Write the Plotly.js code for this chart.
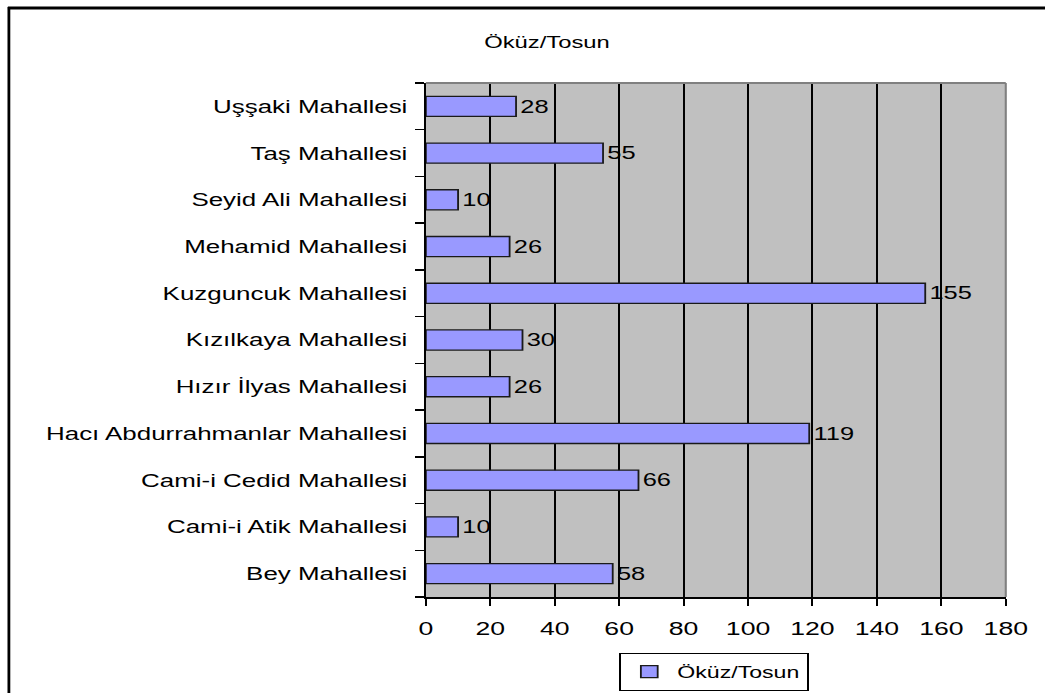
<!DOCTYPE html>
<html>
<head>
<meta charset="utf-8">
<script src="https://cdn.plot.ly/plotly-3.0.1.min.js"></script>
<style>
html,body{margin:0;padding:0;background:#fff;overflow:hidden;}
#wrap{width:1045px;height:693px;overflow:hidden;}
#chart{width:746px;height:693px;transform-origin:0 0;}
</style>
</head>
<body>
<div id="wrap"><div id="chart"></div></div>
<script>
const categories = ["Bey Mahallesi","Cami-i Atik Mahallesi","Cami-i Cedid Mahallesi","Hacı Abdurrahmanlar Mahallesi","Hızır İlyas Mahallesi","Kızılkaya Mahallesi","Kuzguncuk Mahallesi","Mehamid Mahallesi","Seyid Ali Mahallesi","Taş Mahallesi","Uşşaki Mahallesi"];
const values = [58,10,66,119,26,30,155,26,10,55,28];
const seriesName = "Öküz/Tosun";
const chartTitle = "Öküz/Tosun";
const xTicks = [0,20,40,60,80,100,120,140,160,180];

// The reference is a horizontally stretched picture: draw narrower, then stretch.
const W = 1045, H = 693;
const W0 = 746;
const S = W / W0;
document.getElementById("chart").style.transform = "scaleX(" + S + ")";

// plot area in target pixels
const PL = 426, PR = 1006, PT = 83, PB = 597;
const L = PL / S, R = (W - PR) / S, T = PT, B = H - PB;
const pw = W0 - L - R, ph = H - T - B;
function px(X){return (X / S - L) / pw;}
function py(Y){return (H - B - Y) / ph;}

const font = "Liberation Sans, Arial, sans-serif";

const trace = {
  type: "bar",
  orientation: "h",
  y: categories,
  x: values,
  name: seriesName,
  width: 0.43,
  marker: {color: "#9999FF", line: {color: "#1a1a1a", width: 1.3}},
  text: values.map(String),
  textposition: "outside",
  cliponaxis: false,
  textfont: {family: font, size: 19, color: "#000"},
  hoverinfo: "none"
};

const layout = {
  width: W0, height: H,
  margin: {l: L, r: R, t: T, b: B, pad: 0, autoexpand: false},
  paper_bgcolor: "#ffffff",
  plot_bgcolor: "#C0C0C0",
  font: {family: font, color: "#000"},
  title: {text: chartTitle, font: {family: font, size: 17, color: "#000"}, x: 547 / W, xref: "container", xanchor: "center", y: 1 - 42 / H, yref: "container", yanchor: "middle"},
  showlegend: true,
  legend: {
    orientation: "h", xref: "container", x: 714 / W, xanchor: "center",
    yref: "container", y: (H - 691) / H, yanchor: "bottom",
    bordercolor: "#000", borderwidth: 1.3, bgcolor: "#fff",
    font: {family: font, size: 16.5, color: "#000"},
    itemwidth: 30
  },
  xaxis: {
    range: [0, 180], tickvals: xTicks, ticktext: xTicks.map(String),
    showgrid: true, gridcolor: "#000", gridwidth: 1.4,
    showline: true, linecolor: "#000", linewidth: 1.5,
    ticks: "outside", ticklen: 7, tickcolor: "#000", tickwidth: 1.4,
    ticklabelstandoff: 7,
    tickfont: {family: font, size: 19, color: "#000"},
    zeroline: false, fixedrange: true
  },
  yaxis: {
    type: "category", categoryorder: "array", categoryarray: categories,
    showgrid: false, showline: true, linecolor: "#000", linewidth: 1.5,
    ticks: "outside", ticklen: 6, tickcolor: "#000", tickwidth: 1.5,
    tickson: "boundaries", ticklabelstandoff: 8,
    tickfont: {family: font, size: 18.5, color: "#000"},
    zeroline: false, fixedrange: true
  },
  shapes: [
    {type: "line", xref: "paper", yref: "paper", x0: 0, x1: 1, y0: 1, y1: 1, line: {color: "#808080", width: 2}},
    {type: "line", xref: "paper", yref: "paper", x0: 1, x1: 1, y0: 0, y1: 1, line: {color: "#808080", width: 1.5}},
    {type: "line", xref: "paper", yref: "paper", x0: px(9), x1: px(9), y0: py(7), y1: py(H + 5), line: {color: "#000", width: 2}},
    {type: "line", xref: "paper", yref: "paper", x0: px(8), x1: px(W + 5), y0: py(8), y1: py(8), line: {color: "#000", width: 3}}
  ]
};

Plotly.newPlot("chart", [trace], layout, {displayModeBar: false, staticPlot: true});
</script>
</body>
</html>
